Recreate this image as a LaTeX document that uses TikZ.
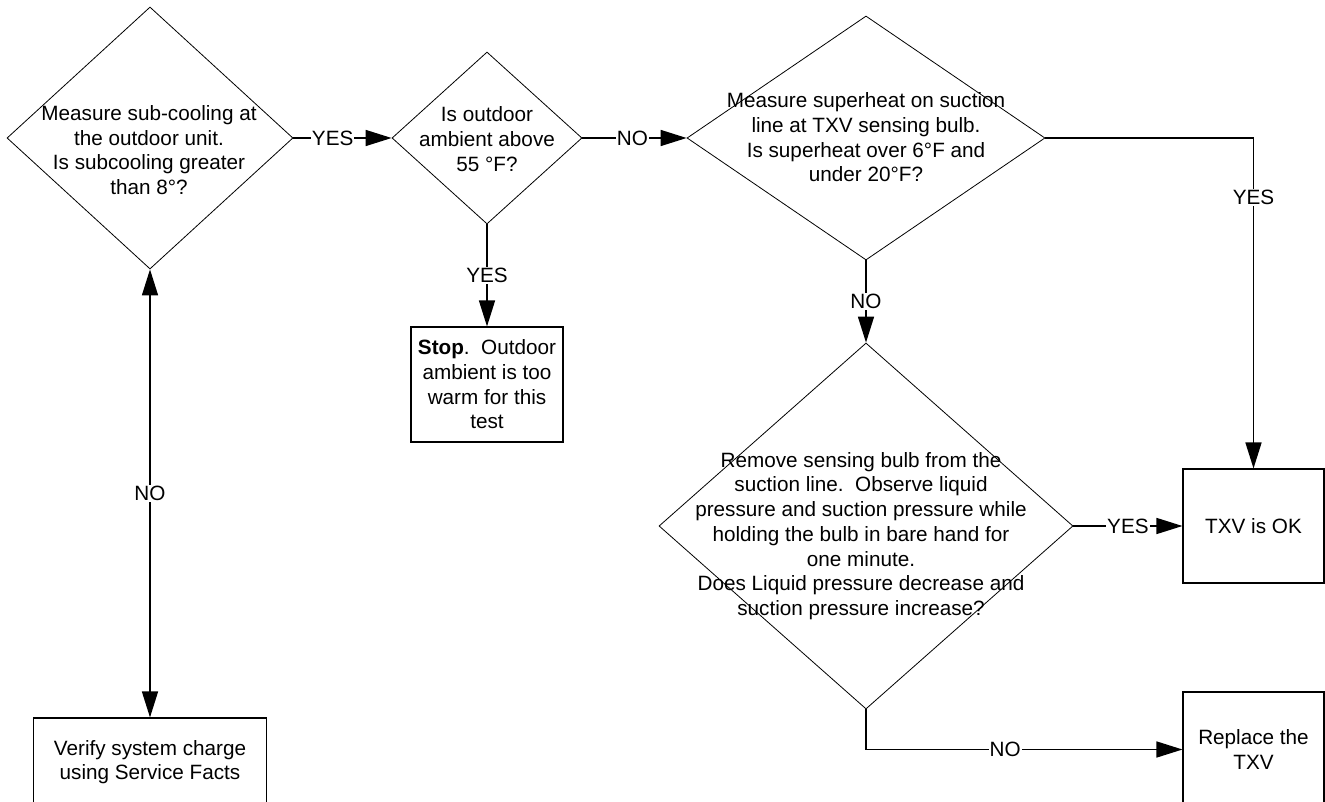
\documentclass[tikz,border=0pt]{standalone}
\usepackage{fontspec}
\setmainfont{Liberation Sans}
\usetikzlibrary{shapes.geometric,arrows.meta}

\begin{document}
\begin{tikzpicture}[x=1pt, y=-1pt,
    >={Triangle[length=26pt,width=16pt]},
    decision/.style={shape=diamond, draw, line width=0.8pt, inner sep=0pt},
    txt/.style={align=center, inner sep=0pt, font=\fontsize{20.7pt}{24.7pt}\selectfont},
    actbox/.style={shape=rectangle, draw, line width=1.1pt, txt},
    flow/.style={line width=1.5pt, ->},
    lbl/.style={fill=white, inner sep=1pt, font=\fontsize{20.7pt}{24.7pt}\selectfont}]
      \path[use as bounding box, clip] (0,0) rectangle (1325,802);
      \fill[white] (0,0) rectangle (1325,802);
      \node[decision, minimum width=286pt, minimum height=262pt] (d1) at (150,138) {};
      \node[txt] (d1txt) at (149,150) {Measure sub-cooling at\\the outdoor unit.\\Is subcooling greater\\than 8°?};
      \node[decision, minimum width=190pt, minimum height=172pt] (d2) at (487,138) {};
      \node[txt] (d2txt) at (487,139) {Is outdoor\\ambient above\\55 °F?};
      \node[decision, minimum width=358pt, minimum height=244pt] (d3) at (866,138) {};
      \node[txt] (d3txt) at (866,137.5) {Measure superheat on suction\\line at TXV sensing bulb.\\Is superheat over 6°F and\\under 20°F?};
      \node[decision, minimum width=414pt, minimum height=366pt] (d4) at (866,526) {};
      \node[txt] (d4txt) at (861,536) {Remove sensing bulb from the\\suction line.~~Observe liquid\\pressure and suction pressure while\\holding the bulb in bare hand for\\one minute.\\Does Liquid pressure decrease and\\suction pressure increase?};
      \node[actbox, minimum width=152pt, minimum height=115pt] (stop) at (487,384.5) {\textbf{Stop}.~~Outdoor\\ambient is too\\warm for this\\test};
      \node[actbox, minimum width=233pt, minimum height=88pt] (verify) at (150,762) {Verify system charge\\using Service Facts};
      \node[actbox, minimum width=141pt, minimum height=114pt] (ok) at (1253.5,526) {TXV is OK};
      \node[actbox, minimum width=141pt, minimum height=115pt] (replace) at (1253.5,749.5) {Replace the\\TXV};
      \draw[flow] (d1.east) -- node[lbl, pos=0.4] {YES} (d2.west);
      \draw[flow] (d2.east) -- node[lbl, pos=0.48] {NO} (d3.west);
      \draw[flow] (d2.south) -- node[lbl] {YES} (stop.north);
      \draw[flow] (d3.east) -| node[lbl, pos=0.59] {YES} (ok.north);
      \draw[flow] (d3.south) -- node[lbl] {NO} (d4.north);
      \draw[flow] (d4.east) -- node[lbl] {YES} (ok.west);
      \draw[flow] (d4.south) |- node[lbl, pos=0.72] {NO} (replace.west);
      \draw[flow, <->] (d1.south) -- node[lbl] {NO} (verify.north);
    \end{tikzpicture}
\end{document}
